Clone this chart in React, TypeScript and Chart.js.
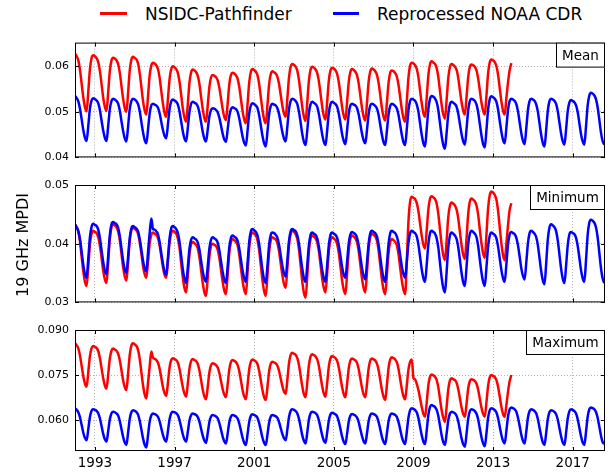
import React, { useEffect, useRef } from "react";
import { Chart, registerables } from "chart.js";

Chart.register(...registerables);

const FONT = "'DejaVu Sans', 'Liberation Sans', sans-serif";
const RED = "#ff0000";
const BLUE = "#0000ff";
const GRID = "#b4b4b4";

// monthly series, first value = January 1992
const START_YEAR = 1992;
const X_MIN = 1992;
const X_MAX = 2018.62;
const xTickYears = [1993, 1997, 2001, 2005, 2009, 2013, 2017];

const seriesNames = ["NSIDC-Pathfinder", "Reprocessed NOAA CDR"];
const panelNames = ["Mean", "Minimum", "Maximum"];
const yAxisTitle = "19 GHz MPDI";

const meanTicks = [0.04, 0.05, 0.06];
const minTicks = [0.03, 0.04, 0.05];
const maxTicks = [0.06, 0.075, 0.09];

// ---- Mean ----
const pathfinderMean = [
  0.0628,0.0622,0.0613,0.0592,0.0562,0.0532,0.0510,0.0501,0.0544,0.0593,0.0618,0.0624,
  0.0622,0.0618,0.0609,0.0590,0.0561,0.0531,0.0511,0.0502,0.0543,0.0590,0.0613,0.0619,
  0.0617,0.0613,0.0605,0.0586,0.0557,0.0529,0.0508,0.0500,0.0542,0.0591,0.0615,0.0621,
  0.0618,0.0615,0.0606,0.0585,0.0555,0.0524,0.0503,0.0494,0.0534,0.0580,0.0602,0.0608,
  0.0606,0.0602,0.0594,0.0575,0.0546,0.0518,0.0497,0.0489,0.0528,0.0572,0.0594,0.0600,
  0.0598,0.0594,0.0585,0.0566,0.0537,0.0507,0.0487,0.0478,0.0518,0.0564,0.0587,0.0593,
  0.0591,0.0587,0.0579,0.0561,0.0533,0.0506,0.0486,0.0478,0.0514,0.0555,0.0576,0.0581,
  0.0579,0.0576,0.0569,0.0553,0.0530,0.0506,0.0489,0.0482,0.0518,0.0560,0.0581,0.0586,
  0.0584,0.0580,0.0573,0.0555,0.0528,0.0502,0.0483,0.0475,0.0517,0.0564,0.0588,0.0594,
  0.0592,0.0588,0.0580,0.0561,0.0532,0.0504,0.0483,0.0475,0.0515,0.0561,0.0583,0.0589,
  0.0587,0.0584,0.0577,0.0561,0.0537,0.0513,0.0496,0.0489,0.0530,0.0576,0.0599,0.0605,
  0.0603,0.0599,0.0590,0.0570,0.0540,0.0510,0.0489,0.0480,0.0522,0.0569,0.0593,0.0599,
  0.0597,0.0593,0.0585,0.0567,0.0539,0.0511,0.0491,0.0483,0.0523,0.0569,0.0591,0.0597,
  0.0595,0.0591,0.0583,0.0565,0.0538,0.0510,0.0491,0.0483,0.0522,0.0566,0.0588,0.0594,
  0.0592,0.0588,0.0580,0.0562,0.0535,0.0508,0.0489,0.0481,0.0521,0.0567,0.0589,0.0595,
  0.0593,0.0589,0.0581,0.0563,0.0536,0.0508,0.0489,0.0481,0.0520,0.0564,0.0586,0.0591,
  0.0589,0.0585,0.0577,0.0559,0.0532,0.0505,0.0486,0.0478,0.0524,0.0576,0.0602,0.0608,
  0.0606,0.0602,0.0594,0.0575,0.0546,0.0518,0.0497,0.0489,0.0532,0.0581,0.0605,0.0611,
  0.0608,0.0605,0.0596,0.0576,0.0545,0.0515,0.0494,0.0485,0.0527,0.0575,0.0599,0.0605,
  0.0603,0.0599,0.0592,0.0574,0.0547,0.0521,0.0502,0.0494,0.0533,0.0577,0.0599,0.0604,
  0.0602,0.0599,0.0591,0.0573,0.0547,0.0520,0.0502,0.0494,0.0536,0.0585,0.0609,0.0615,
  0.0613,0.0609,0.0600,0.0581,0.0552,0.0523,0.0502,0.0494,0.0530,0.0565,0.0592,0.0607,
];
const cdrMean = [
  0.0535,0.0530,0.0523,0.0507,0.0484,0.0460,0.0443,0.0436,0.0469,0.0507,0.0525,0.0530,
  0.0528,0.0525,0.0519,0.0504,0.0481,0.0459,0.0443,0.0436,0.0469,0.0506,0.0524,0.0529,
  0.0527,0.0524,0.0518,0.0503,0.0480,0.0458,0.0442,0.0435,0.0468,0.0506,0.0524,0.0529,
  0.0527,0.0524,0.0517,0.0502,0.0478,0.0455,0.0438,0.0431,0.0461,0.0496,0.0514,0.0518,
  0.0516,0.0514,0.0509,0.0497,0.0478,0.0460,0.0447,0.0442,0.0472,0.0506,0.0523,0.0527,
  0.0525,0.0522,0.0516,0.0501,0.0479,0.0457,0.0441,0.0435,0.0465,0.0500,0.0518,0.0522,
  0.0520,0.0518,0.0512,0.0498,0.0477,0.0456,0.0441,0.0435,0.0461,0.0490,0.0504,0.0508,
  0.0507,0.0504,0.0499,0.0487,0.0470,0.0452,0.0439,0.0434,0.0461,0.0491,0.0506,0.0510,
  0.0508,0.0506,0.0500,0.0486,0.0466,0.0446,0.0432,0.0426,0.0459,0.0496,0.0514,0.0519,
  0.0517,0.0514,0.0508,0.0492,0.0470,0.0447,0.0431,0.0424,0.0457,0.0495,0.0513,0.0518,
  0.0516,0.0514,0.0508,0.0495,0.0475,0.0455,0.0441,0.0435,0.0468,0.0506,0.0524,0.0529,
  0.0527,0.0524,0.0517,0.0500,0.0476,0.0451,0.0434,0.0427,0.0460,0.0498,0.0517,0.0522,
  0.0520,0.0517,0.0511,0.0495,0.0473,0.0450,0.0434,0.0427,0.0460,0.0498,0.0517,0.0522,
  0.0520,0.0517,0.0511,0.0496,0.0474,0.0451,0.0436,0.0429,0.0460,0.0496,0.0514,0.0518,
  0.0516,0.0514,0.0508,0.0494,0.0473,0.0452,0.0437,0.0431,0.0461,0.0496,0.0514,0.0518,
  0.0516,0.0513,0.0507,0.0493,0.0471,0.0449,0.0433,0.0427,0.0459,0.0495,0.0513,0.0518,
  0.0516,0.0513,0.0507,0.0493,0.0471,0.0449,0.0433,0.0427,0.0463,0.0504,0.0524,0.0529,
  0.0527,0.0524,0.0516,0.0500,0.0474,0.0449,0.0431,0.0424,0.0463,0.0507,0.0529,0.0535,
  0.0533,0.0529,0.0521,0.0503,0.0475,0.0447,0.0427,0.0419,0.0455,0.0496,0.0517,0.0522,
  0.0520,0.0517,0.0511,0.0496,0.0473,0.0451,0.0435,0.0428,0.0463,0.0504,0.0524,0.0529,
  0.0527,0.0524,0.0516,0.0499,0.0473,0.0448,0.0429,0.0422,0.0461,0.0506,0.0528,0.0534,
  0.0532,0.0529,0.0522,0.0505,0.0480,0.0456,0.0438,0.0431,0.0465,0.0505,0.0524,0.0529,
  0.0527,0.0524,0.0517,0.0501,0.0477,0.0453,0.0436,0.0429,0.0464,0.0504,0.0524,0.0529,
  0.0527,0.0524,0.0516,0.0500,0.0474,0.0449,0.0431,0.0424,0.0461,0.0503,0.0524,0.0529,
  0.0527,0.0524,0.0517,0.0501,0.0476,0.0452,0.0435,0.0428,0.0462,0.0502,0.0521,0.0526,
  0.0524,0.0521,0.0514,0.0499,0.0475,0.0451,0.0435,0.0428,0.0468,0.0514,0.0536,0.0542,
  0.0540,0.0536,0.0528,0.0510,0.0483,0.0455,0.0436,0.0428,
];

// ---- Minimum ----
const pathfinderMin = [
  0.0433,0.0428,0.0420,0.0404,0.0378,0.0353,0.0335,0.0328,0.0361,0.0399,0.0417,0.0422,
  0.0420,0.0418,0.0411,0.0397,0.0376,0.0354,0.0339,0.0333,0.0368,0.0408,0.0428,0.0433,
  0.0431,0.0428,0.0421,0.0406,0.0383,0.0360,0.0344,0.0337,0.0369,0.0405,0.0423,0.0427,
  0.0425,0.0423,0.0417,0.0403,0.0383,0.0362,0.0348,0.0342,0.0369,0.0400,0.0415,0.0419,
  0.0417,0.0415,0.0410,0.0397,0.0379,0.0360,0.0347,0.0342,0.0370,0.0402,0.0418,0.0422,
  0.0420,0.0417,0.0409,0.0393,0.0367,0.0342,0.0324,0.0317,0.0347,0.0382,0.0399,0.0403,
  0.0401,0.0398,0.0392,0.0377,0.0355,0.0333,0.0317,0.0311,0.0342,0.0378,0.0396,0.0400,
  0.0398,0.0396,0.0390,0.0376,0.0355,0.0335,0.0320,0.0314,0.0347,0.0385,0.0403,0.0408,
  0.0406,0.0403,0.0397,0.0382,0.0359,0.0337,0.0321,0.0314,0.0351,0.0393,0.0414,0.0419,
  0.0417,0.0414,0.0406,0.0389,0.0363,0.0337,0.0319,0.0311,0.0346,0.0386,0.0406,0.0411,
  0.0409,0.0407,0.0401,0.0387,0.0366,0.0346,0.0331,0.0325,0.0359,0.0398,0.0417,0.0422,
  0.0420,0.0416,0.0408,0.0390,0.0363,0.0335,0.0316,0.0308,0.0345,0.0388,0.0409,0.0414,
  0.0412,0.0409,0.0402,0.0387,0.0364,0.0340,0.0324,0.0317,0.0350,0.0388,0.0406,0.0411,
  0.0409,0.0406,0.0399,0.0384,0.0361,0.0337,0.0321,0.0314,0.0349,0.0389,0.0409,0.0414,
  0.0412,0.0409,0.0402,0.0387,0.0364,0.0340,0.0324,0.0317,0.0352,0.0392,0.0412,0.0417,
  0.0415,0.0412,0.0405,0.0388,0.0363,0.0339,0.0321,0.0314,0.0347,0.0385,0.0403,0.0408,
  0.0406,0.0403,0.0397,0.0382,0.0359,0.0337,0.0321,0.0314,0.0372,0.0439,0.0472,0.0480,
  0.0478,0.0476,0.0469,0.0455,0.0434,0.0413,0.0398,0.0392,0.0423,0.0459,0.0477,0.0481,
  0.0479,0.0476,0.0468,0.0450,0.0424,0.0398,0.0380,0.0372,0.0406,0.0446,0.0465,0.0470,
  0.0468,0.0465,0.0458,0.0443,0.0420,0.0397,0.0381,0.0374,0.0410,0.0451,0.0472,0.0477,
  0.0475,0.0472,0.0465,0.0449,0.0424,0.0400,0.0383,0.0376,0.0416,0.0461,0.0483,0.0489,
  0.0487,0.0483,0.0475,0.0456,0.0428,0.0400,0.0380,0.0372,0.0400,0.0432,0.0458,0.0469,
];
const cdrMin = [
  0.0433,0.0428,0.0422,0.0408,0.0386,0.0364,0.0348,0.0342,0.0374,0.0411,0.0429,0.0434,
  0.0432,0.0430,0.0424,0.0410,0.0389,0.0369,0.0354,0.0348,0.0379,0.0415,0.0433,0.0437,
  0.0435,0.0433,0.0427,0.0413,0.0392,0.0371,0.0356,0.0350,0.0378,0.0410,0.0426,0.0430,
  0.0428,0.0426,0.0421,0.0408,0.0390,0.0371,0.0358,0.0353,0.0385,0.0418,0.0443,0.0425,
  0.0424,0.0421,0.0416,0.0403,0.0384,0.0366,0.0352,0.0347,0.0376,0.0409,0.0426,0.0430,
  0.0428,0.0425,0.0418,0.0403,0.0380,0.0356,0.0340,0.0333,0.0360,0.0392,0.0407,0.0411,
  0.0409,0.0407,0.0402,0.0390,0.0371,0.0353,0.0340,0.0335,0.0362,0.0392,0.0407,0.0411,
  0.0409,0.0407,0.0402,0.0389,0.0370,0.0352,0.0338,0.0333,0.0361,0.0394,0.0410,0.0414,
  0.0412,0.0410,0.0405,0.0392,0.0373,0.0354,0.0341,0.0335,0.0367,0.0403,0.0421,0.0425,
  0.0423,0.0420,0.0414,0.0399,0.0377,0.0355,0.0339,0.0333,0.0363,0.0398,0.0415,0.0419,
  0.0418,0.0415,0.0410,0.0398,0.0380,0.0362,0.0349,0.0344,0.0372,0.0405,0.0421,0.0425,
  0.0423,0.0421,0.0414,0.0400,0.0378,0.0357,0.0341,0.0335,0.0364,0.0398,0.0415,0.0419,
  0.0417,0.0415,0.0409,0.0395,0.0375,0.0355,0.0341,0.0335,0.0364,0.0398,0.0415,0.0419,
  0.0417,0.0415,0.0410,0.0397,0.0379,0.0360,0.0347,0.0342,0.0369,0.0401,0.0416,0.0420,
  0.0418,0.0416,0.0410,0.0397,0.0378,0.0358,0.0345,0.0339,0.0368,0.0401,0.0418,0.0422,
  0.0420,0.0418,0.0412,0.0398,0.0377,0.0356,0.0341,0.0335,0.0365,0.0400,0.0418,0.0422,
  0.0420,0.0418,0.0412,0.0400,0.0380,0.0361,0.0348,0.0342,0.0370,0.0402,0.0418,0.0422,
  0.0420,0.0418,0.0412,0.0398,0.0377,0.0356,0.0341,0.0335,0.0365,0.0400,0.0418,0.0422,
  0.0420,0.0417,0.0409,0.0393,0.0367,0.0342,0.0324,0.0317,0.0353,0.0394,0.0414,0.0419,
  0.0417,0.0414,0.0408,0.0394,0.0372,0.0350,0.0334,0.0328,0.0361,0.0399,0.0417,0.0422,
  0.0420,0.0417,0.0411,0.0396,0.0373,0.0351,0.0335,0.0328,0.0360,0.0396,0.0414,0.0419,
  0.0417,0.0415,0.0409,0.0395,0.0375,0.0355,0.0341,0.0335,0.0365,0.0399,0.0416,0.0420,
  0.0418,0.0416,0.0410,0.0397,0.0378,0.0358,0.0345,0.0339,0.0368,0.0401,0.0418,0.0422,
  0.0420,0.0417,0.0411,0.0397,0.0375,0.0353,0.0337,0.0331,0.0367,0.0408,0.0428,0.0433,
  0.0431,0.0428,0.0421,0.0405,0.0381,0.0357,0.0340,0.0333,0.0363,0.0398,0.0416,0.0420,
  0.0418,0.0416,0.0410,0.0396,0.0376,0.0355,0.0341,0.0335,0.0372,0.0415,0.0436,0.0441,
  0.0439,0.0436,0.0428,0.0411,0.0385,0.0359,0.0341,0.0333,
];

// ---- Maximum ----
const pathfinderMax = [
  0.0856,0.0849,0.0839,0.0815,0.0781,0.0746,0.0721,0.0711,0.0759,0.0813,0.0840,0.0847,
  0.0844,0.0840,0.0830,0.0807,0.0773,0.0739,0.0715,0.0705,0.0752,0.0805,0.0831,0.0838,
  0.0835,0.0831,0.0821,0.0799,0.0766,0.0733,0.0710,0.0700,0.0755,0.0817,0.0848,0.0856,
  0.0852,0.0847,0.0834,0.0804,0.0760,0.0716,0.0685,0.0672,0.0722,0.0779,0.0828,0.0808,
  0.0804,0.0800,0.0791,0.0771,0.0740,0.0710,0.0689,0.0680,0.0724,0.0775,0.0800,0.0806,
  0.0803,0.0800,0.0791,0.0770,0.0739,0.0709,0.0687,0.0678,0.0722,0.0772,0.0797,0.0803,
  0.0800,0.0796,0.0787,0.0765,0.0733,0.0701,0.0678,0.0669,0.0711,0.0759,0.0783,0.0789,
  0.0787,0.0783,0.0775,0.0757,0.0730,0.0703,0.0684,0.0676,0.0719,0.0769,0.0794,0.0800,
  0.0797,0.0793,0.0784,0.0763,0.0732,0.0700,0.0678,0.0669,0.0716,0.0769,0.0795,0.0802,
  0.0799,0.0795,0.0786,0.0764,0.0732,0.0699,0.0676,0.0667,0.0711,0.0762,0.0788,0.0794,
  0.0792,0.0789,0.0781,0.0764,0.0738,0.0713,0.0694,0.0687,0.0735,0.0790,0.0817,0.0824,
  0.0821,0.0817,0.0806,0.0783,0.0747,0.0712,0.0686,0.0676,0.0726,0.0783,0.0812,0.0819,
  0.0816,0.0812,0.0802,0.0780,0.0746,0.0712,0.0688,0.0678,0.0725,0.0779,0.0806,0.0813,
  0.0810,0.0806,0.0797,0.0775,0.0742,0.0709,0.0686,0.0676,0.0721,0.0773,0.0799,0.0805,
  0.0802,0.0799,0.0790,0.0769,0.0738,0.0707,0.0685,0.0676,0.0721,0.0773,0.0799,0.0805,
  0.0802,0.0798,0.0788,0.0766,0.0733,0.0700,0.0677,0.0667,0.0717,0.0774,0.0802,0.0809,
  0.0806,0.0802,0.0792,0.0770,0.0736,0.0703,0.0679,0.0669,0.0716,0.0769,0.0795,0.0802,
  0.0740,0.0735,0.0720,0.0700,0.0672,0.0643,0.0620,0.0611,0.0660,0.0717,0.0745,0.0752,
  0.0749,0.0744,0.0733,0.0708,0.0670,0.0632,0.0607,0.0594,0.0645,0.0703,0.0732,0.0739,
  0.0736,0.0733,0.0724,0.0703,0.0672,0.0642,0.0620,0.0611,0.0655,0.0705,0.0730,0.0736,
  0.0734,0.0730,0.0721,0.0701,0.0671,0.0641,0.0620,0.0611,0.0660,0.0715,0.0743,0.0750,
  0.0747,0.0743,0.0733,0.0711,0.0678,0.0644,0.0620,0.0611,0.0650,0.0695,0.0730,0.0750,
];
const cdrMax = [
  0.0639,0.0634,0.0626,0.0609,0.0584,0.0558,0.0540,0.0533,0.0569,0.0610,0.0631,0.0636,
  0.0634,0.0631,0.0623,0.0606,0.0580,0.0554,0.0536,0.0528,0.0563,0.0603,0.0623,0.0628,
  0.0626,0.0622,0.0615,0.0597,0.0570,0.0544,0.0525,0.0517,0.0558,0.0604,0.0627,0.0633,
  0.0631,0.0627,0.0618,0.0598,0.0569,0.0539,0.0518,0.0509,0.0549,0.0594,0.0616,0.0622,
  0.0620,0.0617,0.0611,0.0596,0.0573,0.0551,0.0535,0.0528,0.0563,0.0603,0.0623,0.0628,
  0.0626,0.0623,0.0616,0.0600,0.0576,0.0552,0.0535,0.0528,0.0561,0.0599,0.0617,0.0622,
  0.0620,0.0617,0.0610,0.0595,0.0571,0.0548,0.0531,0.0524,0.0557,0.0594,0.0612,0.0617,
  0.0615,0.0612,0.0606,0.0590,0.0568,0.0545,0.0529,0.0522,0.0555,0.0593,0.0612,0.0617,
  0.0615,0.0612,0.0605,0.0589,0.0565,0.0541,0.0524,0.0517,0.0553,0.0594,0.0614,0.0619,
  0.0617,0.0614,0.0607,0.0590,0.0566,0.0541,0.0524,0.0517,0.0552,0.0592,0.0612,0.0617,
  0.0615,0.0613,0.0607,0.0593,0.0573,0.0553,0.0539,0.0533,0.0569,0.0610,0.0631,0.0636,
  0.0634,0.0630,0.0622,0.0604,0.0577,0.0549,0.0530,0.0522,0.0559,0.0602,0.0623,0.0628,
  0.0626,0.0623,0.0616,0.0599,0.0574,0.0549,0.0531,0.0524,0.0559,0.0599,0.0619,0.0624,
  0.0622,0.0619,0.0612,0.0595,0.0570,0.0545,0.0527,0.0520,0.0555,0.0595,0.0615,0.0620,
  0.0618,0.0615,0.0608,0.0593,0.0569,0.0546,0.0529,0.0522,0.0557,0.0597,0.0617,0.0622,
  0.0620,0.0617,0.0610,0.0593,0.0569,0.0544,0.0527,0.0520,0.0556,0.0597,0.0617,0.0622,
  0.0620,0.0617,0.0610,0.0593,0.0569,0.0544,0.0527,0.0520,0.0562,0.0609,0.0633,0.0639,
  0.0637,0.0633,0.0625,0.0606,0.0577,0.0549,0.0528,0.0520,0.0566,0.0618,0.0644,0.0650,
  0.0647,0.0643,0.0634,0.0613,0.0581,0.0549,0.0526,0.0517,0.0556,0.0600,0.0622,0.0628,
  0.0626,0.0622,0.0614,0.0595,0.0567,0.0539,0.0519,0.0511,0.0555,0.0605,0.0630,0.0636,
  0.0634,0.0630,0.0621,0.0602,0.0572,0.0543,0.0522,0.0513,0.0557,0.0608,0.0633,0.0639,
  0.0637,0.0633,0.0625,0.0606,0.0578,0.0550,0.0530,0.0522,0.0564,0.0612,0.0636,0.0642,
  0.0640,0.0636,0.0628,0.0608,0.0580,0.0551,0.0530,0.0522,0.0562,0.0608,0.0630,0.0636,
  0.0634,0.0630,0.0622,0.0603,0.0574,0.0546,0.0525,0.0517,0.0558,0.0604,0.0627,0.0633,
  0.0631,0.0627,0.0619,0.0601,0.0573,0.0545,0.0525,0.0517,0.0559,0.0606,0.0630,0.0636,
  0.0634,0.0630,0.0622,0.0603,0.0574,0.0546,0.0525,0.0517,0.0561,0.0611,0.0636,0.0642,
  0.0640,0.0636,0.0627,0.0608,0.0579,0.0549,0.0527,0.0520,
];

function monthly(values: number[]) {
  return values.map((y, i) => ({ x: START_YEAR + i / 12, y }));
}

const panelPlugin = {
  id: "panelDecor",
  afterDatasetsDraw(chart: any, _args: any, opts: any) {
    const { ctx, chartArea: a, scales } = chart;
    ctx.save();
    ctx.strokeStyle = "#000";
    ctx.lineWidth = 1;
    ctx.setLineDash([]);
    ctx.beginPath();
    for (const t of scales.x.ticks) {
      const px = Math.round(scales.x.getPixelForValue(t.value)) + 0.5;
      ctx.moveTo(px, a.bottom);
      ctx.lineTo(px, a.bottom - 4);
      ctx.moveTo(px, a.top);
      ctx.lineTo(px, a.top + 4);
    }
    for (const t of scales.y.ticks) {
      const py = Math.round(scales.y.getPixelForValue(t.value)) + 0.5;
      ctx.moveTo(a.left, py);
      ctx.lineTo(a.left + 4, py);
      ctx.moveTo(a.right, py);
      ctx.lineTo(a.right - 4, py);
    }
    ctx.stroke();
    ctx.strokeRect(a.left + 0.5, a.top + 0.5, a.right - a.left - 1, a.bottom - a.top - 1);

    const label = opts.label as string;
    ctx.font = `13.5px ${FONT}`;
    const w = Math.round(ctx.measureText(label).width + 12);
    const h = 25;
    const x0 = a.right - w;
    const y0 = a.top;
    ctx.fillStyle = "#fff";
    ctx.fillRect(x0, y0, w, h);
    ctx.strokeRect(x0 + 0.5, y0 + 0.5, w - 1, h - 1);
    ctx.fillStyle = "#000";
    ctx.textAlign = "center";
    ctx.textBaseline = "middle";
    ctx.fillText(label, x0 + w / 2, y0 + h / 2 + 1);
    ctx.restore();
  },
};

type PanelProps = {
  top: number;
  height: number;
  padTop: number;
  xHeight: number;
  showX: boolean;
  label: string;
  red: number[];
  blue: number[];
  yMin: number;
  yMax: number;
  yTicks: number[];
  decimals: number;
};

function Panel(p: PanelProps) {
  const ref = useRef<HTMLCanvasElement>(null);
  useEffect(() => {
    if (!ref.current) return;
    const chart = new Chart(ref.current, {
      type: "line",
      data: {
        datasets: [
          {
            label: seriesNames[1],
            data: monthly(p.blue),
            borderColor: BLUE,
            backgroundColor: BLUE,
            order: 0,
          },
          {
            label: seriesNames[0],
            data: monthly(p.red),
            borderColor: RED,
            backgroundColor: RED,
            order: 1,
          },
        ],
      },
      options: {
        responsive: false,
        maintainAspectRatio: false,
        animation: false,
        devicePixelRatio: 1,
        layout: { padding: { top: p.padTop, right: 10, bottom: 0, left: 0 } },
        elements: {
          point: { radius: 0 },
          line: { borderWidth: 2.5, cubicInterpolationMode: "monotone", fill: false },
        },
        plugins: {
          legend: { display: false },
          tooltip: { enabled: false },
          panelDecor: { label: p.label },
        } as any,
        scales: {
          x: {
            type: "linear",
            min: X_MIN,
            max: X_MAX,
            afterBuildTicks: (s: any) => {
              s.ticks = xTickYears.map((v) => ({ value: v }));
            },
            afterFit: (s: any) => {
              s.height = p.xHeight;
            },
            grid: { color: GRID, lineWidth: 1, drawTicks: false },
            border: { display: false, dash: [1, 2] },
            ticks: {
              display: p.showX,
              padding: 4,
              autoSkip: false,
              maxRotation: 0,
              color: "#000",
              font: { family: FONT, size: 13.5 },
              callback: (v: any) => String(v),
            },
          },
          y: {
            min: p.yMin,
            max: p.yMax,
            afterBuildTicks: (s: any) => {
              s.ticks = p.yTicks.map((v) => ({ value: v }));
            },
            afterFit: (s: any) => {
              s.width = 75;
            },
            grid: { color: GRID, lineWidth: 1, drawTicks: false },
            border: { display: false, dash: [1, 2] },
            ticks: {
              padding: 6,
              color: "#000",
              font: { family: FONT, size: 11 },
              callback: (v: any) => Number(v).toFixed(p.decimals),
            },
          },
        },
      } as any,
      plugins: [panelPlugin],
    });
    return () => chart.destroy();
  }, []);
  return (
    <canvas
      ref={ref}
      width={615}
      height={p.height}
      style={{ position: "absolute", left: 0, top: p.top, width: 615, height: p.height }}
    />
  );
}

export default function App() {
  const legendText: React.CSSProperties = {
    position: "absolute",
    top: 4,
    fontSize: 17,
    lineHeight: "20px",
    whiteSpace: "nowrap",
    color: "#000",
  };
  return (
    <div
      style={{
        position: "absolute",
        left: 0,
        top: 0,
        width: 615,
        height: 472,
        background: "#fff",
        overflow: "hidden",
        fontFamily: FONT,
      }}
    >
      <div style={{ position: "absolute", left: 100, top: 12, width: 27, height: 3, background: RED }} />
      <div style={{ ...legendText, left: 145 }}>{seriesNames[0]}</div>
      <div style={{ position: "absolute", left: 333, top: 12, width: 26, height: 3, background: BLUE }} />
      <div style={{ ...legendText, left: 377 }}>{seriesNames[1]}</div>

      <Panel top={30} height={140} padTop={9} xHeight={10} showX={false} label={panelNames[0]}
        red={pathfinderMean} blue={cdrMean} yMin={0.04} yMax={0.0652} yTicks={meanTicks} decimals={2} />
      <Panel top={170} height={145} padTop={15} xHeight={10} showX={false} label={panelNames[1]}
        red={pathfinderMin} blue={cdrMin} yMin={0.03} yMax={0.05} yTicks={minTicks} decimals={2} />
      <Panel top={315} height={157} padTop={15} xHeight={21} showX={true} label={panelNames[2]}
        red={pathfinderMax} blue={cdrMax} yMin={0.0497} yMax={0.09} yTicks={maxTicks} decimals={3} />

      <div
        style={{
          position: "absolute",
          left: 23.3 - 100,
          top: 235,
          width: 200,
          height: 20,
          lineHeight: "20px",
          fontSize: 16,
          textAlign: "center",
          transform: "rotate(-90deg)",
          whiteSpace: "nowrap",
          color: "#000",
        }}
      >
        {yAxisTitle}
      </div>
    </div>
  );
}
